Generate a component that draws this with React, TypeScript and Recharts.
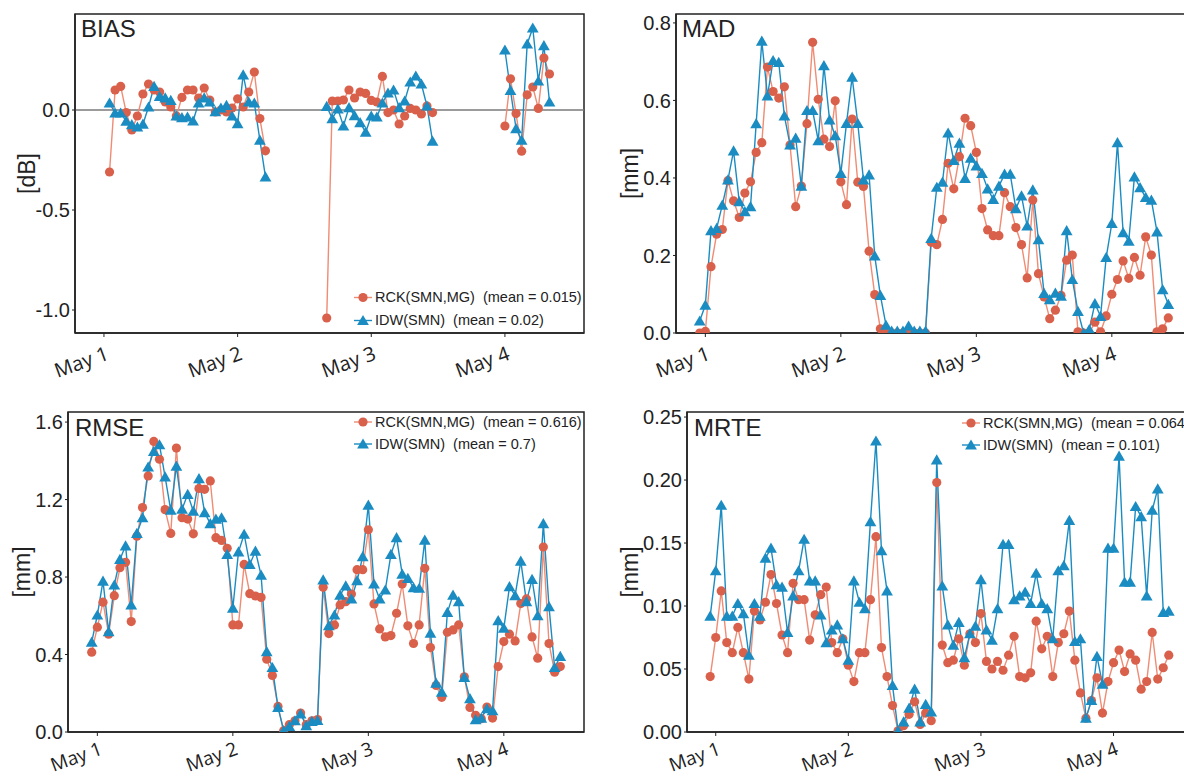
import React from 'react';
import { LineChart, Line, XAxis, YAxis, ReferenceArea, ReferenceLine } from 'recharts';

// hours since May 1 00:00
const hours = [
  -1, 0, 1, 2, 3, 4, 5, 6, 7, 8, 9, 10,
  11, 12, 13, 14, 15, 16, 17, 18, 19, 20, 21, 22,
  23, 24, 25, 26, 27, 28, 29, 30, 31, 32, 33, 34,
  35, 36, 37, 38, 39, 40, 41, 42, 43, 44, 45, 46,
  47, 48, 49, 50, 51, 52, 53, 54, 55, 56, 57, 58,
  59, 60, 61, 62, 63, 64, 65, 66, 67, 68, 69, 70,
  71, 72, 73, 74, 75, 76, 77, 78, 79, 80, 81, 82,
];
const dayTicks = [0, 24, 48, 72];
const dayLabels = ['May 1', 'May 2', 'May 3', 'May 4'];

const biasRck = [
  null, null, -0.31, 0.10, 0.118, -0.013, -0.10, -0.03, 0.08, 0.13, 0.10, 0.09,
  0.04, 0.015, -0.03, 0.063, 0.10, 0.10, 0.06, 0.11, 0.05, -0.01, 0.0, -0.01,
  0.01, 0.056, 0.015, 0.09, 0.19, -0.043, -0.204, null, null, null, null, null,
  null, null, null, null, null, -1.04, 0.045, 0.045, 0.05, 0.10, 0.06, 0.09,
  0.083, 0.048, 0.04, 0.168, -0.013, 0.0, -0.07, -0.03, 0.008, 0.0, -0.02, 0.02,
  -0.013, null, null, null, null, null, null, null, null, null, null, null,
  null, -0.08, 0.156, -0.018, -0.206, 0.076, 0.115, 0.008, 0.26, 0.18, null, null,
];
const biasIdw = [
  null, null, 0.035, -0.015, -0.015, -0.056, -0.073, -0.085, -0.071, 0.015, 0.118, 0.068,
  0.061, 0.048, -0.03, -0.038, -0.035, -0.055, 0.035, 0.061, 0.04, -0.008, 0.01, 0.023,
  -0.03, -0.068, 0.176, 0.04, 0.035, -0.151, -0.334, null, null, null, null, null,
  null, null, null, null, null, 0.018, -0.043, 0.005, -0.08, 0.012, -0.028, -0.063,
  -0.111, -0.03, -0.035, 0.035, 0.085, 0.10, 0.012, 0.045, 0.14, 0.17, 0.13, 0.02,
  -0.156, null, null, null, null, null, null, null, null, null, null, null,
  null, 0.30, 0.098, -0.093, -0.151, 0.33, 0.41, 0.145, 0.322, 0.04, null, null,
];

const madRck = [
  0.0, 0.004, 0.171, 0.255, 0.267, 0.393, 0.341, 0.298, 0.361, 0.39, 0.466, 0.491,
  0.686, 0.623, 0.606, 0.635, 0.485, 0.326, 0.379, 0.54, 0.75, 0.603, 0.50, 0.481,
  0.599, 0.39, 0.331, 0.552, 0.389, 0.378, 0.211, 0.099, 0.011, 0.0, 0.0, 0.0,
  0.0, 0.002, 0.0, 0.0, 0.0, 0.234, 0.228, 0.293, 0.438, 0.372, 0.455, 0.554,
  0.535, 0.466, 0.321, 0.266, 0.251, 0.251, 0.362, 0.326, 0.272, 0.228, 0.142, 0.343,
  0.153, 0.093, 0.037, 0.059, 0.097, 0.188, 0.201, 0.003, 0.0, 0.0, 0.028, 0.003,
  0.044, 0.1, 0.138, 0.186, 0.141, 0.195, 0.149, 0.248, 0.201, 0.003, 0.011, 0.039,
];
const madIdw = [
  0.031, 0.072, 0.264, 0.27, 0.33, 0.395, 0.47, 0.339, 0.313, 0.326, 0.54, 0.753,
  0.612, 0.703, 0.698, 0.56, 0.485, 0.503, 0.379, 0.574, 0.574, 0.496, 0.69, 0.55,
  0.509, 0.412, 0.541, 0.66, 0.541, 0.395, 0.408, 0.199, 0.097, 0.02, 0.005, 0.005,
  0.005, 0.018, 0.005, 0.005, 0.005, 0.244, 0.376, 0.389, 0.516, 0.445, 0.49, 0.399,
  0.451, 0.431, 0.412, 0.372, 0.345, 0.379, 0.41, 0.41, 0.321, 0.354, 0.276, 0.369,
  0.241, 0.102, 0.086, 0.103, 0.095, 0.264, 0.138, 0.056, 0.0, 0.009, 0.076, 0.043,
  0.195, 0.283, 0.491, 0.259, 0.237, 0.403, 0.375, 0.35, 0.343, 0.261, 0.112, 0.074,
];

const rmseRck = [
  0.412, 0.541, 0.67, 0.505, 0.704, 0.848, 0.876, 0.57, 1.011, 1.159, 1.322, 1.50,
  1.408, 1.148, 1.025, 1.466, 1.106, 1.099, 1.023, 1.257, 1.253, 1.296, 1.003, 0.989,
  0.948, 0.553, 0.553, 0.865, 0.714, 0.702, 0.695, 0.376, 0.292, 0.132, 0.007, 0.038,
  0.058, 0.098, 0.038, 0.058, 0.064, 0.747, 0.508, 0.553, 0.656, 0.673, 0.712, 0.838,
  0.838, 1.044, 0.661, 0.532, 0.491, 0.498, 0.613, 0.764, 0.548, 0.457, 0.553, 0.845,
  0.436, 0.24, 0.179, 0.515, 0.527, 0.553, 0.285, 0.127, 0.086, 0.069, 0.129, 0.072,
  0.338, 0.467, 0.505, 0.47, 0.663, 0.687, 0.491, 0.381, 0.955, 0.457, 0.309, 0.338,
];
const rmseIdw = [
  0.464, 0.604, 0.779, 0.518, 0.759, 0.891, 0.961, 0.656, 1.025, 1.106, 1.368, 1.449,
  1.483, 1.317, 1.145, 1.373, 1.15, 1.227, 1.14, 1.308, 1.133, 1.076, 1.099, 1.106,
  0.917, 0.639, 0.93, 1.021, 0.865, 0.934, 0.81, 0.415, 0.333, 0.127, 0.007, 0.029,
  0.058, 0.093, 0.033, 0.055, 0.06, 0.785, 0.549, 0.604, 0.707, 0.754, 0.687, 0.781,
  0.905, 1.171, 0.764, 0.687, 0.733, 0.917, 1.003, 0.815, 0.793, 0.745, 0.742, 0.991,
  0.51, 0.252, 0.206, 0.618, 0.707, 0.673, 0.282, 0.172, 0.064, 0.072, 0.12, 0.11,
  0.575, 0.536, 0.75, 0.704, 0.882, 0.673, 0.788, 0.601, 1.076, 0.647, 0.333, 0.39,
];

const mrteRck = [
  0.044, 0.075, 0.112, 0.071, 0.063, 0.083, 0.063, 0.042, 0.096, 0.089, 0.103, 0.125,
  0.102, 0.077, 0.063, 0.118, 0.105, 0.105, 0.073, 0.093, 0.109, 0.115, 0.071, 0.063,
  0.074, 0.053, 0.04, 0.063, 0.063, 0.105, 0.155, 0.067, 0.044, 0.021, 0.001, 0.005,
  0.014, 0.024, 0.006, 0.015, 0.009, 0.198, 0.069, 0.055, 0.057, 0.074, 0.053, 0.078,
  0.071, 0.094, 0.056, 0.05, 0.056, 0.049, 0.061, 0.076, 0.044, 0.043, 0.047, 0.088,
  0.066, 0.076, 0.044, 0.071, 0.078, 0.096, 0.057, 0.031, 0.011, 0.025, 0.043, 0.015,
  0.04, 0.055, 0.065, 0.048, 0.062, 0.057, 0.034, 0.04, 0.079, 0.042, 0.051, 0.061,
];
const mrteIdw = [
  0.092, 0.128, 0.18, 0.092, 0.092, 0.102, 0.094, 0.061, 0.102, 0.092, 0.138, 0.146,
  0.117, 0.115, 0.079, 0.108, 0.128, 0.153, 0.12, 0.12, 0.093, 0.071, 0.081, 0.085,
  0.074, 0.057, 0.12, 0.103, 0.098, 0.167, 0.231, 0.144, 0.112, 0.037, 0.001, 0.008,
  0.019, 0.034, 0.008, 0.022, 0.016, 0.216, 0.116, 0.085, 0.069, 0.087, 0.059, 0.078,
  0.084, 0.121, 0.081, 0.073, 0.098, 0.149, 0.149, 0.105, 0.108, 0.111, 0.102, 0.126,
  0.102, 0.098, 0.074, 0.128, 0.132, 0.168, 0.072, 0.074, 0.011, 0.025, 0.06, 0.038,
  0.146, 0.146, 0.219, 0.119, 0.119, 0.179, 0.171, 0.108, 0.176, 0.193, 0.095, 0.096,
];

const rckName = 'RCK(SMN,MG)';
const idwName = 'IDW(SMN)';
const biasMeans = ['0.015', '0.02'];
const rmseMeans = ['0.616', '0.7'];
const mrteMeans = ['0.064', '0.101'];

const X_DOMAIN: [number, number] = [-5.2, 86.2];
const RCK_DOT = '#d9604b';
const RCK_LINE = '#f08b74';
const IDW_COL = '#1a8cc2';
const AX = '#222';
const SANS = '"Liberation Sans", Arial, sans-serif';

const build = (a: (number | null)[], b: (number | null)[]) =>
  hours.map((h, i) => ({ h, rck: a[i], idw: b[i] }));

const CircleDot = (p: any) => {
  const { cx, cy, value, index } = p;
  if (cx == null || cy == null || value == null) return <g key={`c${index}`} />;
  return <circle key={`c${index}`} cx={cx} cy={cy} r={4.6} fill={RCK_DOT} />;
};
const TriDot = (p: any) => {
  const { cx, cy, value, index } = p;
  if (cx == null || cy == null || value == null) return <g key={`t${index}`} />;
  return (
    <path
      key={`t${index}`}
      d={`M${cx},${cy - 5.6} L${cx + 5.9},${cy + 4.6} L${cx - 5.9},${cy + 4.6} Z`}
      fill={IDW_COL}
    />
  );
};

const XTick = (p: any) => {
  const { x, y, payload, dyOff, fs } = p;
  const idx = dayTicks.indexOf(payload.value);
  return (
    <g transform={`translate(${x + 6},${y + dyOff}) rotate(-20)`}>
      <text x={0} y={0} textAnchor="end" fontSize={fs} fill={AX} fontFamily='"Open Sans", sans-serif'>
        {idx >= 0 ? dayLabels[idx] : ''}
      </text>
    </g>
  );
};

const YLab = (p: any) => {
  const { viewBox, text, cx, fallbackCy } = p;
  const cy = viewBox && viewBox.height ? viewBox.y + viewBox.height / 2 : fallbackCy;
  return (
    <text
      x={cx}
      y={cy}
      transform={`rotate(-90 ${cx} ${cy})`}
      textAnchor="middle"
      dominantBaseline="central"
      fontSize={23}
      fill={AX}
      fontFamily={SANS}
    >
      {text}
    </text>
  );
};

type PanelProps = {
  left: number; top: number; width: number; height: number;
  marginTop: number; marginRight: number; yAxisWidth: number; xAxisHeight: number;
  data: any[]; yDomain: [number, number]; yTicks: number[]; digits: number;
  title: string; titleOffset: number; yLabel: string; yLabelX: number; zeroLine?: boolean;
  tickDy: number; tickFs: number;
};

const Panel = (P: PanelProps) => {
  const plotH = P.height - P.marginTop - P.xAxisHeight;
  return (
    <div style={{ position: 'absolute', left: P.left, top: P.top, width: P.width, height: P.height }}>
      <LineChart
        width={P.width}
        height={P.height}
        data={P.data}
        margin={{ top: P.marginTop, right: P.marginRight, left: 0, bottom: 0 }}
      >
        <XAxis
          dataKey="h"
          type="number"
          domain={X_DOMAIN}
          ticks={dayTicks}
          allowDataOverflow
          height={P.xAxisHeight}
          tick={<XTick dyOff={P.tickDy} fs={P.tickFs} />}
          tickSize={4}
          tickMargin={1}
          axisLine={{ stroke: AX, strokeWidth: 1.5 }}
          tickLine={{ stroke: AX }}
          interval={0}
        />
        <YAxis
          type="number"
          domain={P.yDomain}
          ticks={P.yTicks}
          allowDataOverflow
          width={P.yAxisWidth}
          tickFormatter={(v: number) => v.toFixed(P.digits)}
          tick={{ fontSize: 20, fill: AX, fontFamily: SANS }}
          tickSize={3}
          tickMargin={2}
          axisLine={{ stroke: AX, strokeWidth: 1.5 }}
          tickLine={{ stroke: AX }}
          interval={0}
          label={<YLab text={P.yLabel} cx={P.yLabelX} fallbackCy={P.marginTop + plotH / 2} />}
        />
        <ReferenceArea
          x1={X_DOMAIN[0]}
          x2={X_DOMAIN[1]}
          y1={P.yDomain[0]}
          y2={P.yDomain[1]}
          fill="none"
          fillOpacity={0}
          stroke={AX}
          strokeWidth={1.5}
          ifOverflow="visible"
          label={{
            value: P.title,
            position: 'insideTopLeft',
            offset: P.titleOffset,
            fontSize: 24,
            fill: AX,
            fontFamily: SANS,
          }}
        />
        {P.zeroLine && <ReferenceLine y={0} stroke="#7a7a7a" strokeWidth={1.6} />}
        <Line
          dataKey="rck"
          stroke={RCK_LINE}
          strokeWidth={1.4}
          dot={<CircleDot />}
          activeDot={false}
          isAnimationActive={false}
          connectNulls={false}
        />
        <Line
          dataKey="idw"
          stroke={IDW_COL}
          strokeWidth={1.4}
          dot={<TriDot />}
          activeDot={false}
          isAnimationActive={false}
          connectNulls={false}
        />
      </LineChart>
    </div>
  );
};

const LegendBox = ({ left, top, means, rowH }: { left: number; top: number; means: string[]; rowH: number }) => {
  const rows = [
    { name: rckName, mean: means[0], kind: 'c' },
    { name: idwName, mean: means[1], kind: 't' },
  ];
  return (
    <div style={{ position: 'absolute', left, top, fontFamily: SANS, fontSize: 14.5, color: AX, whiteSpace: 'nowrap' }}>
      {rows.map((r) => (
        <div key={r.name} style={{ display: 'flex', alignItems: 'center', height: rowH }}>
          <svg width={24} height={rowH} style={{ display: 'block' }}>
            <line x1={3} x2={21} y1={rowH / 2} y2={rowH / 2} stroke={r.kind === 'c' ? RCK_LINE : IDW_COL} strokeWidth={1.4} />
            {r.kind === 'c' ? (
              <circle cx={12} cy={rowH / 2} r={4.6} fill={RCK_DOT} />
            ) : (
              <path d={`M12,${rowH / 2 - 5.6} L17.9,${rowH / 2 + 4.6} L6.1,${rowH / 2 + 4.6} Z`} fill={IDW_COL} />
            )}
          </svg>
          <span style={{ whiteSpace: 'pre', lineHeight: `${rowH}px` }}>{`${r.name}  (mean = ${r.mean})`}</span>
        </div>
      ))}
    </div>
  );
};

export default function App() {
  return (
    <div
      style={{
        position: 'absolute',
        left: 0,
        top: 0,
        width: 1184,
        height: 780,
        overflow: 'hidden',
        background: '#fff',
        fontFamily: SANS,
      }}
    >
      <Panel
        left={0} top={0} width={600} height={390}
        marginTop={14} marginRight={16} yAxisWidth={75} xAxisHeight={57}
        data={build(biasRck, biasIdw)} yDomain={[-1.115, 0.48]} yTicks={[-1, -0.5, 0]} digits={1}
        title="BIAS" titleOffset={6} yLabel="[dB]" yLabelX={27} zeroLine tickDy={21} tickFs={20}
      />
      <Panel
        left={600} top={0} width={600} height={390}
        marginTop={14} marginRight={8} yAxisWidth={76} xAxisHeight={57}
        data={build(madRck, madIdw)} yDomain={[0, 0.823]} yTicks={[0, 0.2, 0.4, 0.6, 0.8]} digits={1}
        title="MAD" titleOffset={6} yLabel="[mm]" yLabelX={30} tickDy={21} tickFs={20}
      />
      <Panel
        left={0} top={390} width={600} height={390}
        marginTop={22} marginRight={16} yAxisWidth={68} xAxisHeight={48}
        data={build(rmseRck, rmseIdw)} yDomain={[0, 1.652]} yTicks={[0, 0.4, 0.8, 1.2, 1.6]} digits={1}
        title="RMSE" titleOffset={7} yLabel="[mm]" yLabelX={22} tickDy={17} tickFs={19}
      />
      <Panel
        left={600} top={390} width={600} height={390}
        marginTop={22} marginRight={8} yAxisWidth={87} xAxisHeight={48}
        data={build(mrteRck, mrteIdw)} yDomain={[0, 0.254]} yTicks={[0, 0.05, 0.1, 0.15, 0.2, 0.25]} digits={2}
        title="MRTE" titleOffset={7} yLabel="[mm]" yLabelX={30} tickDy={17} tickFs={19}
      />
      <LegendBox left={351} top={286} means={biasMeans} rowH={23} />
      <LegendBox left={351} top={411} means={rmseMeans} rowH={22} />
      <LegendBox left={959} top={412} means={mrteMeans} rowH={22} />
    </div>
  );
}
